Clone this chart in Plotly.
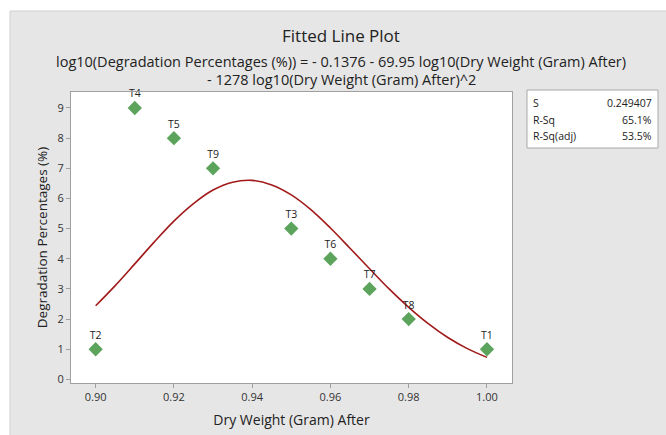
import plotly.graph_objects as go

# Observed data
labels = ["T2", "T4", "T5", "T9", "T3", "T6", "T7", "T8", "T1"]
dry_weight = [0.90, 0.91, 0.92, 0.93, 0.95, 0.96, 0.97, 0.98, 1.00]
degradation = [1, 9, 8, 7, 5, 4, 3, 2, 1]

# Fitted curve values
fit_x = [0.900, 0.905, 0.910, 0.915, 0.920, 0.925, 0.930, 0.935, 0.940, 0.945, 0.950,
         0.955, 0.960, 0.965, 0.970, 0.975, 0.980, 0.985, 0.990, 0.995, 1.000]
fit_y = [2.44, 3.11, 3.83, 4.56, 5.25, 5.83, 6.28, 6.54, 6.60, 6.45, 6.12,
         5.63, 5.02, 4.35, 3.67, 3.00, 2.39, 1.85, 1.39, 1.02, 0.73]

x_ticks = [0.90, 0.92, 0.94, 0.96, 0.98, 1.00]
y_ticks = [0, 1, 2, 3, 4, 5, 6, 7, 8, 9]

stats_names = ["S", "R-Sq", "R-Sq(adj)"]
stats_values = ["0.249407", "65.1%", "53.5%"]

title = "Fitted Line Plot"
subtitle1 = "log10(Degradation Percentages (%)) = - 0.1376 - 69.95 log10(Dry Weight (Gram) After)"
subtitle2 = "- 1278 log10(Dry Weight (Gram) After)^2"

FONT = "Open Sans"
W, H = 666, 435
ML, MR, MT, MB = 71, 154, 92, 52
PW, PH = W - ML - MR, H - MT - MB


def px(x):
    return (x - ML) / PW


def py(y):
    return (H - MB - y) / PH


fig = go.Figure()

fig.add_trace(go.Scatter(
    x=fit_x, y=fit_y, mode="lines", line=dict(color="#a11a1a", width=1.6, shape="spline"),
    hoverinfo="skip", showlegend=False))

fig.add_trace(go.Scatter(
    x=dry_weight, y=degradation, mode="markers+text", text=labels,
    textposition="top center", textfont=dict(family=FONT, size=10.5, color="#222222"),
    marker=dict(symbol="diamond", size=11, color="#5ca35c", line=dict(width=0)),
    cliponaxis=False, showlegend=False))

shapes = [
    # white strips outside the gray frame
    dict(type="rect", xref="paper", yref="paper", x0=px(0), x1=px(W), y0=py(11), y1=py(0),
         fillcolor="white", line=dict(width=0), layer="below"),
    dict(type="rect", xref="paper", yref="paper", x0=px(0), x1=px(10), y0=py(H), y1=py(0),
         fillcolor="white", line=dict(width=0), layer="below"),
    dict(type="line", xref="paper", yref="paper", x0=px(10), x1=px(W), y0=py(11), y1=py(11),
         line=dict(color="#cfcfcf", width=1)),
    dict(type="line", xref="paper", yref="paper", x0=px(10), x1=px(10), y0=py(11), y1=py(H),
         line=dict(color="#cfcfcf", width=1)),
    # stats box
    dict(type="rect", xref="paper", yref="paper", x0=px(527), x1=px(658), y0=py(148), y1=py(90),
         fillcolor="white", line=dict(color="#a8a8a8", width=1)),
]

annotations = [
    dict(text=title, xref="paper", yref="paper", x=px(341), y=py(35), showarrow=False,
         xanchor="center", yanchor="middle", font=dict(family=FONT, size=17, color="#222222")),
    dict(text=subtitle1, xref="paper", yref="paper", x=px(341), y=py(62), showarrow=False,
         xanchor="center", yanchor="middle", font=dict(family=FONT, size=14.5, color="#222222")),
    dict(text=subtitle2, xref="paper", yref="paper", x=px(341), y=py(80), showarrow=False,
         xanchor="center", yanchor="middle", font=dict(family=FONT, size=14.5, color="#222222")),
]
row_y = [103, 120, 136]
for name, val, ry in zip(stats_names, stats_values, row_y):
    annotations.append(dict(text=name, xref="paper", yref="paper", x=px(531), y=py(ry),
                            showarrow=False, xanchor="left", yanchor="middle",
                            font=dict(family=FONT, size=10.5, color="#222222")))
    annotations.append(dict(text=val, xref="paper", yref="paper", x=px(654), y=py(ry),
                            showarrow=False, xanchor="right", yanchor="middle",
                            font=dict(family=FONT, size=10.5, color="#222222")))

fig.update_layout(
    width=W, height=H,
    margin=dict(l=ML, r=MR, t=MT, b=MB, autoexpand=False),
    paper_bgcolor="#e6e6e6",
    plot_bgcolor="white",
    shapes=shapes,
    annotations=annotations,
    font=dict(family=FONT, color="#333333"),
    xaxis=dict(
        range=[0.8937, 1.0064], tickvals=x_ticks, tickformat=".2f", automargin=False,
        showgrid=False, zeroline=False, showline=True, mirror=True, linecolor="#a0a0a0",
        ticks="outside", ticklen=4, tickcolor="#a0a0a0",
        tickfont=dict(family=FONT, size=11, color="#333333"),
        title=dict(text="Dry Weight (Gram) After", font=dict(family=FONT, size=14, color="#222222"),
                   standoff=11),
    ),
    yaxis=dict(
        range=[-0.12, 9.53], tickvals=y_ticks, automargin=False,
        showgrid=False, zeroline=False, showline=True, mirror=True, linecolor="#a0a0a0",
        ticks="outside", ticklen=4, tickcolor="#a0a0a0",
        tickfont=dict(family=FONT, size=11, color="#333333"),
        title=dict(text="Degradation Percentages (%)", font=dict(family=FONT, size=13.5, color="#222222"),
                   standoff=6),
    ),
)

fig.write_html("out.html")
